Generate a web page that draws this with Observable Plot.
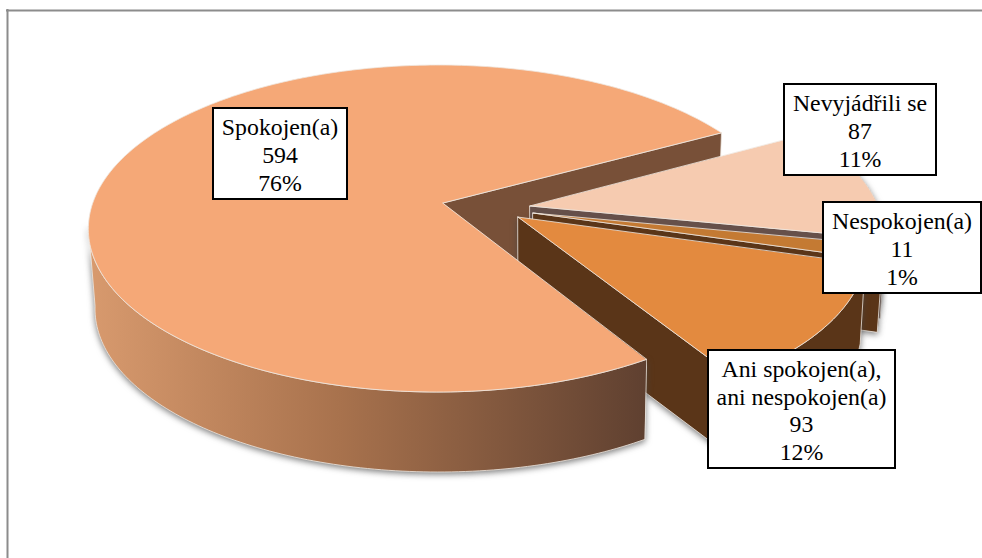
<!DOCTYPE html>
<html><head><meta charset="utf-8">
<script src="https://cdn.jsdelivr.net/npm/d3@7"></script>
<script src="https://cdn.jsdelivr.net/npm/@observablehq/plot@0.6"></script>
<style>html,body{margin:0;padding:0;background:#fff}svg{display:block}</style>
</head><body><div id="chart"></div>
<script>
// Data, clockwise from the start angle
const categories = ["Spokojen(a)", "Nevyjádřili se", "Nespokojen(a)", "Ani spokojen(a),\nani nespokojen(a)"];
const counts = [594, 87, 11, 93];
const percents = ["76%", "11%", "1%", "12%"];

// Styling
const topColors = ["#f5a877", "#f6cbb0", "#c47a33", "#e38a3f"];
const wallColors = ["#785038", "#66504a", "#5a3518", "#5a3518"];
const edgeColor = "#efe7df";

// Projection of the tilted disc
const W = 982, H = 558;
const cx = 443, cy = 203, R = 345, Ry = 159.5, persp = 0.156, perspX = 0.015, startAngle = 59;
const taperCenter = 533, taper = 0.985;
const apexes = [[443, 203], [530, 206], [533, 213], [518, 217]];
const radii = [1, 1.03, 1.01, 1];
const depths = [80, 80, 72, 80];
const boxes = [[213, 347, 108, 199], [784, 936, 84, 175], [823, 981, 202, 293], [708, 895, 350, 468]];

const rad = d => d * Math.PI / 180;
const lower = x => taperCenter + (x - taperCenter) * taper;
function unproject([px, py]) {
  const X = (px - cx) / R, Y = (py - cy) / Ry;
  const w = 1 / (1 + persp * Y - perspX * X);
  return [X * w, Y * w];
}
function project(u, v) {
  const w = 1 - persp * v + perspX * u;
  return [cx + R * u / w, cy + Ry * v / w];
}
const total = d3.sum(counts);
let acc = startAngle;
const spans = counts.map(c => { const a0 = acc; acc += 360 * c / total; return [a0, acc]; });
function arc(i, a0, a1) {
  const [u0, v0] = unproject(apexes[i]);
  const n = Math.max(2, Math.ceil(Math.abs(a1 - a0)));
  return d3.range(n + 1).map(k => {
    const a = rad(a0 + (a1 - a0) * k / n);
    return project(u0 + radii[i] * Math.cos(a), v0 + radii[i] * Math.sin(a));
  });
}
const face = i => arc(i, ...spans[i]).map(([x2, y2]) => ({x1: apexes[i][0], y1: apexes[i][1], x2, y2}));
const rimWall = (i, a0, a1) => arc(i, a0, a1).map(([x, y]) => ({x1: x, y1: y, x2: lower(x), y2: y + depths[i]}));
const cutWall = (i, a) => {
  const [p] = arc(i, a, a + 1);
  return [apexes[i], p].map(([x, y]) => ({x1: x, y1: y, x2: lower(x), y2: y + depths[i]}));
};
const area = (data, fill, extra = {}) => Plot.area(data, {x1: "x1", y1: "y1", x2: "x2", y2: "y2", fill, ...extra});
const shadow = {imageFilter: "drop-shadow(0px 2px 3px rgba(70,70,70,.7))"};
const edged = {stroke: edgeColor, strokeWidth: 0.8};

const gradient = () => {
  const defs = d3.create("svg:defs");
  const g = defs.append("linearGradient").attr("id", "rimGrad");
  [["0%", "#d89a6e"], ["45%", "#a8724d"], ["100%", "#5f4030"]].forEach(([o, c]) =>
    g.append("stop").attr("offset", o).attr("stop-color", c));
  return defs.node();
};

const labels = categories.map((c, i) => ({
  text: `${c}\n${counts[i]}\n${percents[i]}`,
  x1: boxes[i][0], x2: boxes[i][1], y1: boxes[i][2], y2: boxes[i][3]
}));

const plot = Plot.plot({
  width: W, height: H, margin: 0,
  x: {domain: [0, W], range: [0, W], axis: null},
  y: {domain: [0, H], range: [0, H], axis: null},
  style: {background: "#fff"},
  marks: [
    gradient,
    Plot.ruleY([10], {x1: 6, x2: W, stroke: "#8c8c8c", strokeWidth: 2}),
    Plot.ruleX([7], {y1: 9, y2: H, stroke: "#8c8c8c", strokeWidth: 2}),
    // Spokojen: back cut face
    area(cutWall(0, spans[0][1]), wallColors[0], edged),
    // Nevyjádřili se
    area(rimWall(1, spans[1][0], spans[1][1]), wallColors[1], shadow),
    area(cutWall(1, spans[1][1]), wallColors[1], edged),
    area(face(1), topColors[1], edged),
    // Nespokojen
    area(rimWall(2, spans[2][0], spans[2][1]), wallColors[2], shadow),
    area(cutWall(2, spans[2][1]), wallColors[2], {...edged, ...shadow}),
    area(face(2), topColors[2], edged),
    // Ani spokojen, ani nespokojen
    area(rimWall(3, spans[3][0], spans[3][1]), wallColors[3], {...edged, ...shadow}),
    area(cutWall(3, spans[3][1]), wallColors[3], {...edged, ...shadow}),
    area(face(3), topColors[3], edged),
    // Spokojen: front rim and top
    area(rimWall(0, spans[0][0], 172), "url(#rimGrad)", {...edged, ...shadow}),
    area(face(0), topColors[0], edged),
    // Labels
    Plot.rect(labels, {x1: "x1", x2: "x2", y1: "y1", y2: "y2", fill: "#fff", stroke: "#000", strokeWidth: 2}),
    Plot.text(labels, {
      x: d => (d.x1 + d.x2) / 2 - 0.5, y: d => (d.y1 + d.y2) / 2, text: "text",
      fontFamily: "Liberation Serif", fontSize: 23.8, lineHeight: 1.17, fill: "#000", textAnchor: "middle"
    })
  ]
});
document.getElementById("chart").append(plot);
</script></body></html>
